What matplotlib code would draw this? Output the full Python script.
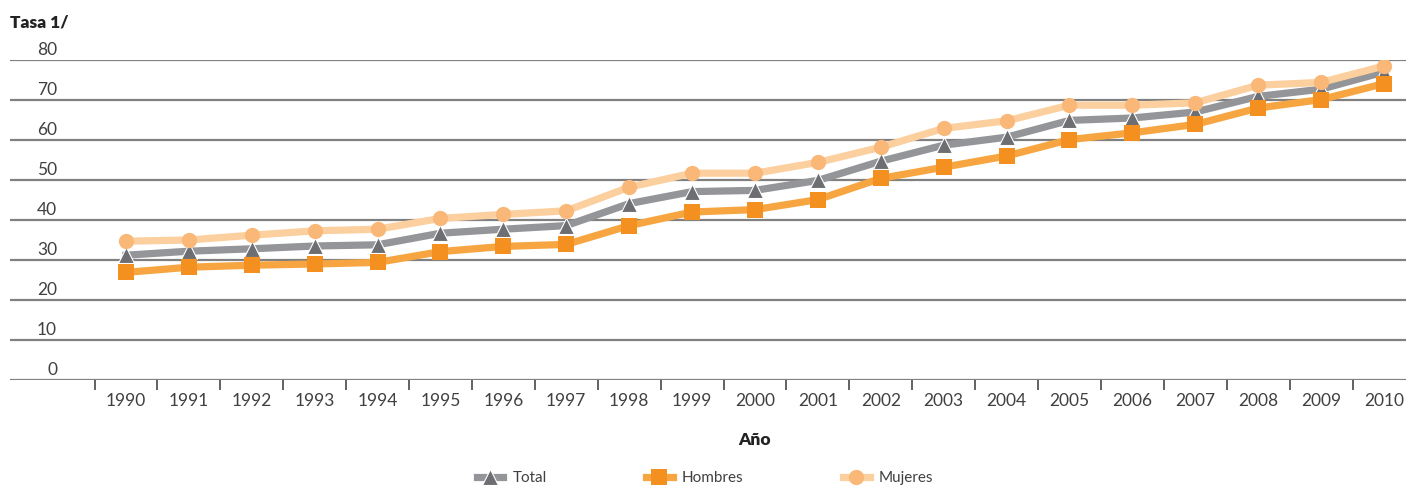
import matplotlib
matplotlib.use("Agg")
import matplotlib.pyplot as plt
import matplotlib.transforms as mtransforms
import numpy as np

plt.rcParams["font.family"] = ["Lato", "DejaVu Sans"]

years = list(range(1990, 2011))
total = [31.2, 32.2, 32.8, 33.5, 33.8, 36.7, 37.7, 38.6, 44.1, 47.1, 47.4,
         49.9, 54.7, 58.7, 60.7, 64.9, 65.5, 67.0, 70.9, 72.7, 77.0]
hombres = [26.9, 28.2, 28.7, 29.0, 29.4, 32.1, 33.4, 33.9, 38.6, 42.0, 42.6,
           45.1, 50.4, 53.2, 56.0, 60.1, 61.8, 63.9, 68.0, 70.1, 74.1]
mujeres = [34.7, 35.0, 36.2, 37.3, 37.7, 40.4, 41.4, 42.3, 48.2, 51.7, 51.7,
           54.4, 58.2, 62.9, 64.8, 68.7, 68.7, 69.3, 73.7, 74.4, 78.5]
yticks = [0, 10, 20, 30, 40, 50, 60, 70, 80]

GRID = "#808080"
TXT = "#404040"

fig = plt.figure(figsize=(14.06, 4.87), dpi=100)
ax = fig.add_axes([10 / 1406, 107 / 487, 1396 / 1406, 320 / 487])

series = [
    ("Total", total, "#939598", "#6d6e71", "^", 11.5),
    ("Hombres", hombres, "#f6a541", "#f39020", "s", 11),
    ("Mujeres", mujeres, "#fccf9e", "#f9b778", "o", 11),
]
handles = []
for name, vals, lc, mc, mk, ms in series:
    h, = ax.plot(years, vals, color=lc, lw=5.2, marker=mk, ms=ms,
                 markerfacecolor=mc, markeredgecolor="white" if mk == "^" else mc,
                 markeredgewidth=0.8 if mk == "^" else 0, solid_joinstyle="miter",
                 label=name, zorder=3)
    handles.append(h)

ax.set_xlim(1990 - 116 / 62.9, 2010 + 22 / 62.9)
ax.set_ylim(0, 80)

for v in yticks:
    ax.axhline(v, color=GRID, lw=1.6, zorder=1)

# y labels sit just above their gridlines
off = mtransforms.offset_copy(ax.get_yaxis_transform(), fig=fig, x=0, y=5, units="dots")
for v in yticks:
    ax.text(47 / 1396, v, str(v), transform=off, ha="right", va="baseline",
            fontsize=12.5, color=TXT)

for s in ax.spines.values():
    s.set_visible(False)
ax.set_yticks([])
ax.set_xticks(years)
ax.set_xticklabels([str(y) for y in years], fontsize=12.5, color=TXT)
ax.set_xticks([y - 0.5 for y in years], minor=True)
ax.tick_params(axis="x", which="major", length=0, pad=9)
ax.tick_params(axis="x", which="minor", length=7, width=1.3, color="#555555", direction="out")

fig.text(10 / 1406, 1 - 22 / 487, "Tasa 1/", fontsize=12.5, fontweight="heavy",
         color="#222222", ha="left", va="center")
ax.text(2000, -60 / 320 * 80, "Año", transform=ax.transData, fontsize=12.5,
        fontweight="heavy", color="#222222", ha="center", va="center", clip_on=False)

fig.legend(handles=handles, loc="center", bbox_to_anchor=(705 / 1406, 1 - 478 / 487),
           ncol=3, frameon=False, fontsize=11, handlelength=1.75, handletextpad=0.6,
           columnspacing=6.5, labelcolor=TXT, borderaxespad=0, borderpad=0)

fig.savefig("out.png", dpi=100)
